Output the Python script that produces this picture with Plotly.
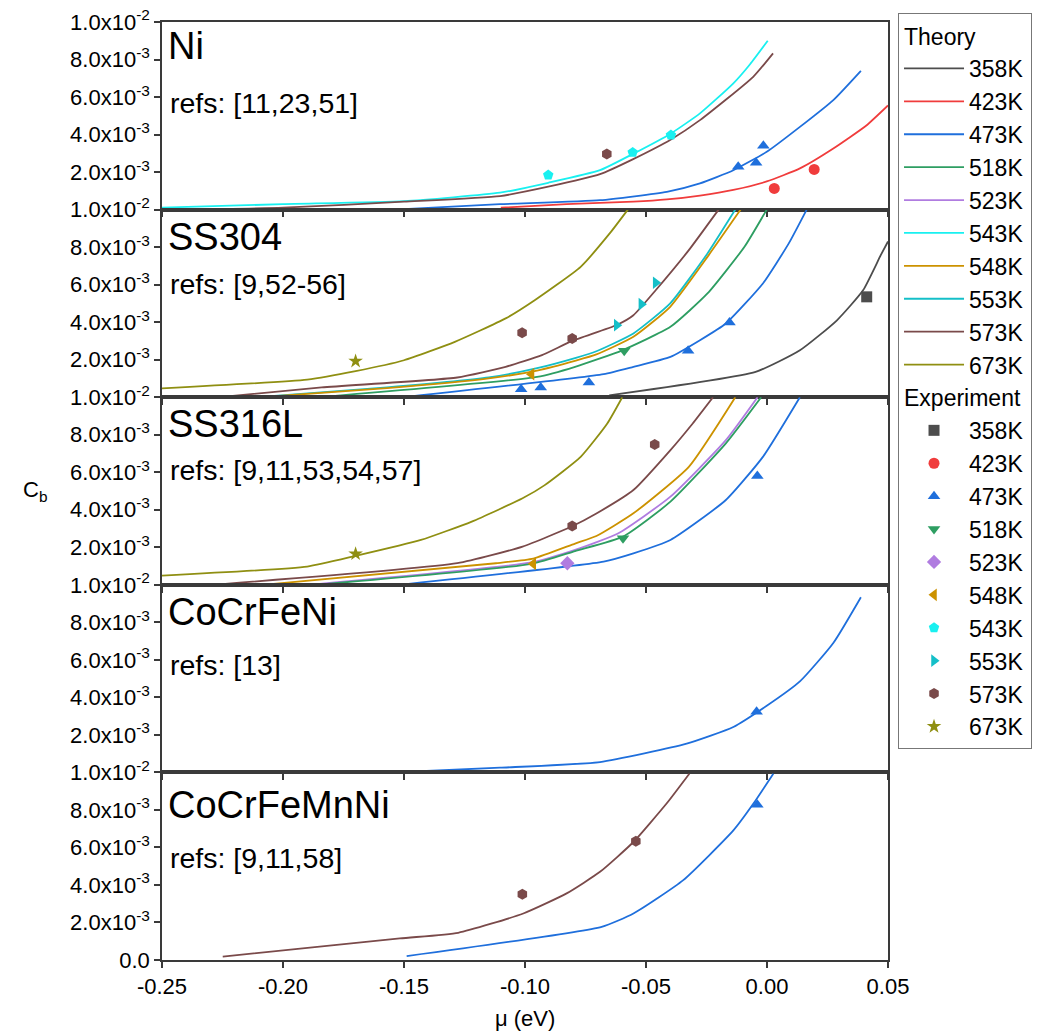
import plotly.graph_objects as go
from plotly.subplots import make_subplots

# ---------------- data (C_b in units of 1e-3, mu in eV) ----------------
temps = ["358K", "423K", "473K", "518K", "523K", "543K", "548K", "553K", "573K", "673K"]
exp_order = ["358K", "423K", "473K", "518K", "523K", "548K", "543K", "553K", "573K", "673K"]
colors = {"358K": "#4d4d4d", "423K": "#f03c3c", "473K": "#1f6fdc", "518K": "#2e9e62",
          "523K": "#b07ce0", "543K": "#19f0f0", "548K": "#cc9200", "553K": "#14bfc8",
          "573K": "#7a4a4a", "673K": "#8f8f12"}
symbols = {"358K": "square", "423K": "circle", "473K": "triangle-up", "518K": "triangle-down",
           "523K": "diamond", "543K": "pentagon", "548K": "triangle-left", "553K": "triangle-right",
           "573K": "hexagon", "673K": "star"}

panel_names = ["Ni", "SS304", "SS316L", "CoCrFeNi", "CoCrFeMnNi"]
panel_refs = ["refs: [11,23,51]", "refs: [9,52-56]", "refs: [9,11,53,54,57]", "refs: [13]", "refs: [9,11,58]"]

# Ni
ni_543_mu = [-0.25, -0.20, -0.15, -0.1103, -0.0904, -0.069, -0.0555, -0.0397, -0.0277, -0.0139, -0.007, 0.0003]
ni_543_c = [0.10, 0.29, 0.45, 0.90, 1.43, 2.10, 2.96, 4.06, 5.13, 6.73, 7.75, 9.00]
ni_573_mu = [-0.225, -0.20, -0.15, -0.1103, -0.0904, -0.069, -0.0555, -0.0397, -0.0277, -0.0057, 0.0025]
ni_573_c = [0.02, 0.10, 0.42, 0.72, 1.22, 1.89, 2.68, 3.74, 4.77, 7.08, 8.33]
ni_473_mu = [-0.15, -0.1103, -0.069, -0.0414, -0.0277, -0.0139, -0.0001, 0.0136, 0.0274, 0.0388]
ni_473_c = [0.03, 0.29, 0.50, 0.95, 1.40, 2.10, 3.08, 4.41, 5.84, 7.40]
ni_423_mu = [-0.11, -0.0828, -0.0552, -0.0414, -0.0277, -0.0139, -0.0001, 0.0136, 0.0274, 0.0412, 0.05]
ni_423_c = [0.10, 0.29, 0.42, 0.54, 0.75, 1.05, 1.50, 2.20, 3.26, 4.50, 5.55]
ni_e543_mu = [-0.0904, -0.0555, -0.0397]
ni_e543_c = [1.84, 3.05, 3.97]
ni_e573_mu = [-0.0662]
ni_e573_c = [2.96]
ni_e473_mu = [-0.0119, -0.0045, -0.0015]
ni_e473_c = [2.28, 2.50, 3.40]
ni_e423_mu = [0.003, 0.0195]
ni_e423_c = [1.13, 2.14]

# SS304
s304_673_mu = [-0.25, -0.19, -0.17, -0.15, -0.129, -0.108, -0.096, -0.077, -0.065, -0.0575]
s304_673_c = [0.47, 0.94, 1.39, 1.97, 2.95, 4.20, 5.17, 6.95, 8.73, 10.0]
s304_573_mu = [-0.225, -0.184, -0.128, -0.108, -0.093, -0.0805, -0.0621, -0.0552, -0.046, -0.0323, -0.020]
s304_573_c = [0.02, 0.52, 1.05, 1.62, 2.24, 3.0, 3.85, 4.37, 5.7, 7.84, 10.0]
s304_553_mu = [-0.209, -0.157, -0.115, -0.095, -0.079, -0.0705, -0.0552, -0.04, -0.0246, -0.0131]
s304_553_c = [0.02, 0.52, 1.05, 1.55, 2.10, 2.45, 3.40, 5.00, 7.66, 10.0]
s304_548_mu = [-0.209, -0.157, -0.115, -0.095, -0.079, -0.0705, -0.0552, -0.04, -0.0246, -0.0109]
s304_548_c = [0.0, 0.48, 1.00, 1.42, 1.95, 2.28, 3.22, 4.82, 7.48, 10.0]
s304_518_mu = [-0.183, -0.095, -0.0793, -0.0598, -0.0399, -0.0246, -0.0093, -0.0001]
s304_518_c = [0.02, 1.08, 1.62, 2.50, 3.75, 5.53, 8.02, 10.0]
s304_473_mu = [-0.149, -0.0675, -0.0552, -0.0399, -0.0277, -0.017, -0.0017, 0.009, 0.0164]
s304_473_c = [0.02, 1.23, 1.62, 2.15, 3.04, 3.93, 6.06, 8.20, 10.0]
s304_358_mu = [-0.0652, -0.0047, 0.0136, 0.0289, 0.0397, 0.047, 0.05]
s304_358_c = [0.10, 1.35, 2.50, 4.10, 5.70, 7.57, 8.30]
s304_e358_mu = [0.0412]
s304_e358_c = [5.35]
s304_e473_mu = [-0.1016, -0.0935, -0.0736, -0.0326, -0.0155]
s304_e473_c = [0.43, 0.52, 0.78, 2.47, 3.98]
s304_e518_mu = [-0.059]
s304_e518_c = [2.47]
s304_e548_mu = [-0.0973]
s304_e548_c = [1.23]
s304_e553_mu = [-0.0621, -0.0519, -0.046]
s304_e553_c = [3.84, 4.96, 6.10]
s304_e573_mu = [-0.1012, -0.0805]
s304_e573_c = [3.43, 3.13]
s304_e673_mu = [-0.17]
s304_e673_c = [1.92]

# SS316L
s316_673_mu = [-0.25, -0.19, -0.17, -0.143, -0.122, -0.101, -0.092, -0.077, -0.066, -0.0598]
s316_673_c = [0.49, 0.97, 1.54, 2.39, 3.37, 4.61, 5.30, 6.82, 8.60, 10.0]
s316_573_mu = [-0.225, -0.128, -0.101, -0.0805, -0.0705, -0.0552, -0.0399, -0.0307, -0.0223]
s316_573_c = [0.04, 1.15, 2.04, 3.12, 3.80, 5.05, 7.18, 8.60, 10.0]
s316_548_mu = [-0.205, -0.112, -0.0966, -0.0793, -0.0705, -0.0552, -0.0323, -0.0131]
s316_548_c = [0.04, 1.15, 1.40, 2.20, 2.60, 3.81, 6.29, 10.0]
s316_523_mu = [-0.186, -0.0973, -0.0793, -0.0614, -0.0399, -0.017, -0.0039]
s316_523_c = [0.04, 1.19, 1.86, 2.75, 4.70, 7.71, 10.0]
s316_518_mu = [-0.186, -0.0973, -0.0793, -0.0595, -0.0399, -0.017, -0.0024]
s316_518_c = [0.0, 1.12, 1.80, 2.57, 4.43, 7.54, 10.0]
s316_473_mu = [-0.149, -0.0675, -0.0552, -0.0399, -0.017, -0.0017, 0.0136]
s316_473_c = [0.04, 1.24, 1.68, 2.39, 4.52, 6.82, 10.0]
s316_e473_mu = [-0.004]
s316_e473_c = [5.80]
s316_e518_mu = [-0.0595]
s316_e518_c = [2.48]
s316_e523_mu = [-0.0825]
s316_e523_c = [1.15]
s316_e548_mu = [-0.0966]
s316_e548_c = [1.12]
s316_e573_mu = [-0.0805, -0.0464]
s316_e573_c = [3.14, 7.48]
s316_e673_mu = [-0.17]
s316_e673_c = [1.65]

# CoCrFeNi
c4_473_mu = [-0.15, -0.1103, -0.069, -0.0332, -0.0139, -0.0001, 0.0136, 0.0274, 0.0388]
c4_473_c = [0.02, 0.25, 0.55, 1.53, 2.42, 3.55, 4.85, 6.90, 9.34]
c4_e473_mu = [-0.0043]
c4_e473_c = [3.23]

# CoCrFeMnNi
c5_573_mu = [-0.2249, -0.1517, -0.1276, -0.1007, -0.0828, -0.069, -0.0552, -0.0415, -0.0321]
c5_573_c = [0.18, 1.15, 1.45, 2.48, 3.55, 4.70, 6.29, 8.34, 9.93]
c5_473_mu = [-0.1489, -0.0683, -0.0552, -0.0346, -0.0139, -0.0056, 0.0026]
c5_473_c = [0.21, 1.77, 2.48, 4.26, 6.91, 8.34, 9.93]
c5_e573_mu = [-0.1011, -0.0542]
c5_e573_c = [3.51, 6.33]
c5_e473_mu = [-0.004]
c5_e473_c = [8.28]

x_ticks = [-0.25, -0.20, -0.15, -0.10, -0.05, 0.00, 0.05]
x_ticktext = ["-0.25", "-0.20", "-0.15", "-0.10", "-0.05", "0.00", "0.05"]
y_ticks = [0.002, 0.004, 0.006, 0.008, 0.010]
y_ticktext = ["2.0x10<sup>-3</sup>", "4.0x10<sup>-3</sup>", "6.0x10<sup>-3</sup>",
              "8.0x10<sup>-3</sup>", "1.0x10<sup>-2</sup>"]

theory = [
    (1, "543K", ni_543_mu, ni_543_c), (1, "573K", ni_573_mu, ni_573_c),
    (1, "473K", ni_473_mu, ni_473_c), (1, "423K", ni_423_mu, ni_423_c),
    (2, "673K", s304_673_mu, s304_673_c), (2, "573K", s304_573_mu, s304_573_c),
    (2, "553K", s304_553_mu, s304_553_c), (2, "548K", s304_548_mu, s304_548_c),
    (2, "518K", s304_518_mu, s304_518_c), (2, "473K", s304_473_mu, s304_473_c),
    (2, "358K", s304_358_mu, s304_358_c),
    (3, "673K", s316_673_mu, s316_673_c), (3, "573K", s316_573_mu, s316_573_c),
    (3, "548K", s316_548_mu, s316_548_c), (3, "523K", s316_523_mu, s316_523_c),
    (3, "518K", s316_518_mu, s316_518_c), (3, "473K", s316_473_mu, s316_473_c),
    (4, "473K", c4_473_mu, c4_473_c),
    (5, "573K", c5_573_mu, c5_573_c), (5, "473K", c5_473_mu, c5_473_c),
]
experiment = [
    (1, "543K", ni_e543_mu, ni_e543_c), (1, "573K", ni_e573_mu, ni_e573_c),
    (1, "473K", ni_e473_mu, ni_e473_c), (1, "423K", ni_e423_mu, ni_e423_c),
    (2, "358K", s304_e358_mu, s304_e358_c), (2, "473K", s304_e473_mu, s304_e473_c),
    (2, "518K", s304_e518_mu, s304_e518_c), (2, "548K", s304_e548_mu, s304_e548_c),
    (2, "553K", s304_e553_mu, s304_e553_c), (2, "573K", s304_e573_mu, s304_e573_c),
    (2, "673K", s304_e673_mu, s304_e673_c),
    (3, "473K", s316_e473_mu, s316_e473_c), (3, "518K", s316_e518_mu, s316_e518_c),
    (3, "523K", s316_e523_mu, s316_e523_c), (3, "548K", s316_e548_mu, s316_e548_c),
    (3, "573K", s316_e573_mu, s316_e573_c), (3, "673K", s316_e673_mu, s316_e673_c),
    (4, "473K", c4_e473_mu, c4_e473_c),
    (5, "573K", c5_e573_mu, c5_e573_c), (5, "473K", c5_e473_mu, c5_e473_c),
]

FONT = "Liberation Sans, Arial, sans-serif"
fig = make_subplots(rows=5, cols=1, shared_xaxes=True, vertical_spacing=0)

seen_t = set()
for row, t, mu, c in theory:
    show = t not in seen_t
    seen_t.add(t)
    fig.add_trace(go.Scatter(
        x=mu, y=[v * 1e-3 for v in c], mode="lines", name=t,
        line=dict(color=colors[t], width=1.8, shape="spline", smoothing=0.5),
        legendgroup="theory", legendgrouptitle=dict(text="Theory", font=dict(size=23, family=FONT)),
        legendrank=temps.index(t) + 1, showlegend=show), row=row, col=1)

seen_e = set()
for row, t, mu, c in experiment:
    show = t not in seen_e
    seen_e.add(t)
    fig.add_trace(go.Scatter(
        x=mu, y=[v * 1e-3 for v in c], mode="markers", name=t,
        marker=dict(color=colors[t], symbol=symbols[t], size=11, line=dict(width=0)),
        legendgroup="exp", legendgrouptitle=dict(text="Experiment", font=dict(size=23, family=FONT)),
        legendrank=100 + exp_order.index(t), showlegend=show, cliponaxis=False), row=row, col=1)

axis_color = "#3a3a3a"
for r in range(1, 6):
    fig.update_xaxes(range=[-0.25, 0.05], tickvals=x_ticks, ticktext=x_ticktext,
                     ticks="outside", ticklen=6, tickwidth=1.5, tickcolor=axis_color,
                     showline=True, linecolor=axis_color, linewidth=1.5, mirror=True,
                     showgrid=False, zeroline=False, showticklabels=(r == 5), automargin=False,
                     tickfont=dict(size=22, family=FONT, color="black"), row=r, col=1)
    yt = list(y_ticks)
    yl = list(y_ticktext)
    if r == 5:
        yt = [0.0] + yt
        yl = ["0.0"] + yl
    fig.update_yaxes(range=[0, 0.01], tickvals=yt, ticktext=yl,
                     ticks="outside", ticklen=6, tickwidth=1.5, tickcolor=axis_color,
                     showline=True, linecolor=axis_color, linewidth=1.5, mirror=True,
                     showgrid=False, zeroline=False, automargin=False, ticklabeloverflow="allow",
                     tickfont=dict(size=22, family=FONT, color="black"), row=r, col=1)

name_y = [0.9744, 0.7708, 0.5714, 0.3710, 0.1652]
refs_y = [0.9136, 0.7207, 0.5224, 0.3145, 0.1087]
for i in range(5):
    fig.add_annotation(x=0.006, y=name_y[i], xref="paper", yref="paper", text=panel_names[i],
                       showarrow=False, xanchor="left", yanchor="middle",
                       font=dict(size=38, family=FONT, color="black"))
    fig.add_annotation(x=0.008, y=refs_y[i], xref="paper", yref="paper", text=panel_refs[i],
                       showarrow=False, xanchor="left", yanchor="middle",
                       font=dict(size=28.5, family=FONT, color="black"))

fig.add_annotation(x=-0.175, y=0.50, xref="paper", yref="paper", text="C<sub>b</sub>",
                   showarrow=False, xanchor="center", yanchor="middle",
                   font=dict(size=22, family=FONT, color="black"))
fig.add_annotation(x=0.5, y=-0.062, xref="paper", yref="paper", text="\u03bc (eV)",
                   showarrow=False, xanchor="center", yanchor="middle",
                   font=dict(size=22, family=FONT, color="black"))

# page body has an 8px margin, so the figure is 8px smaller and margins shifted
fig.update_layout(
    width=1032, height=1027,
    margin=dict(l=154, r=152, t=14, b=75, autoexpand=False),
    paper_bgcolor="white", plot_bgcolor="white",
    font=dict(family=FONT, color="black"),
    legend=dict(x=1.0138, y=1.0095, xanchor="left", yanchor="top",
                bordercolor="#777777", borderwidth=1, bgcolor="white",
                font=dict(size=23, family=FONT, color="black"),
                tracegroupgap=0, itemwidth=60, traceorder="grouped", maxheight=1000),
)

fig.write_html("out.html")
